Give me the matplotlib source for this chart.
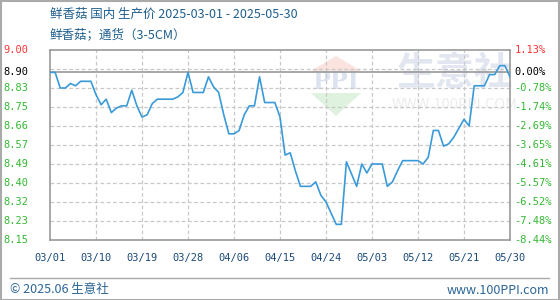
import matplotlib
matplotlib.use("Agg")
import matplotlib.pyplot as plt
import pandas as pd
import numpy as np
from matplotlib.patches import Polygon, Rectangle
from matplotlib.lines import Line2D

plt.rcParams['font.family'] = ['Noto Sans CJK SC', 'DejaVu Sans']

# ---- data ----
title_text = "鲜香菇 国内 生产价 2025-03-01 - 2025-05-30"
subtitle_text = "鲜香菇；通货（3-5CM）"
start_date = "2025-03-01"
end_date = "2025-05-30"
prices = [
    8.90, 8.90, 8.83, 8.83, 8.85, 8.84, 8.86, 8.86, 8.86, 8.80,
    8.755, 8.78, 8.72, 8.74, 8.75, 8.75, 8.82, 8.75, 8.70, 8.71,
    8.76, 8.78, 8.78, 8.78, 8.78, 8.79, 8.81, 8.90, 8.81, 8.81,
    8.81, 8.88, 8.835, 8.81, 8.71, 8.625, 8.625, 8.64, 8.71, 8.75,
    8.75, 8.88, 8.765, 8.765, 8.765, 8.70, 8.53, 8.54, 8.46, 8.39,
    8.39, 8.39, 8.41, 8.35, 8.32, 8.27, 8.22, 8.22, 8.50, 8.445,
    8.39, 8.49, 8.45, 8.49, 8.49, 8.49, 8.39, 8.41, 8.46, 8.505,
    8.505, 8.505, 8.505, 8.49, 8.52, 8.64, 8.64, 8.57, 8.58, 8.61,
    8.65, 8.69, 8.66, 8.84, 8.84, 8.84, 8.89, 8.89, 8.93, 8.93,
    8.88,
]
base_value = 8.90
y_min, y_max = 8.15, 9.00
left_labels = ["9.00", "8.90", "8.83", "8.75", "8.66", "8.57", "8.49", "8.40", "8.32", "8.23", "8.15"]
right_labels = ["1.13%", "0.00%", "-0.78%", "-1.74%", "-2.69%", "-3.65%", "-4.61%", "-5.57%", "-6.52%", "-7.48%", "-8.44%"]
x_tick_labels = ["03/01", "03/10", "03/19", "03/28", "04/06", "04/15", "04/24", "05/03", "05/12", "05/21", "05/30"]
tick_step_days = 9
footer_left = "© 2025.06 生意社"
footer_right = "www.100PPI.com"

dates = pd.date_range(start_date, end_date, freq="D")

# ---- figure ----
W, H = 560, 300
fig = plt.figure(figsize=(W / 100, H / 100), dpi=100)
ax = fig.add_axes([50 / W, 60 / H, 460 / W, 190 / H])

line_color = "#3a9ad9"
grid_color = "#c8c8c8"
border_color = "#999999"
green = "#33b833"
red = "#ff3333"
blue_txt = "#1f5f8f"

ax.plot(dates, prices, color=line_color, lw=1.2, zorder=3)
ax.set_xlim(dates[0], dates[-1])
ax.set_ylim(y_min, y_max)

# grid positions
n = len(left_labels)
grid_vals = np.linspace(y_max, y_min, n)
for i, gv in enumerate(grid_vals):
    if 0 < i < n - 1:
        ax.axhline(gv, color=grid_color, lw=0.9, ls=(0, (3, 2)), zorder=1)
ax.axhline(base_value, color=border_color, lw=1.2, zorder=2)

xticks = dates[::tick_step_days]
for xt in xticks[1:-1]:
    ax.axvline(xt, color=grid_color, lw=0.9, ls=(0, (3, 2)), zorder=1)
ax.set_xticks(xticks)
ax.set_xticklabels(x_tick_labels, fontsize=7.5, color="#1a4a7a", family="DejaVu Sans Mono")
ax.tick_params(axis="x", length=0, pad=9)
ax.set_yticks([])

for s in ax.spines.values():
    s.set_color(border_color)
    s.set_linewidth(1.2)

# y labels, left and right
for i, (gv, ll, rl) in enumerate(zip(grid_vals, left_labels, right_labels)):
    yv = base_value if i == 1 else gv
    col = red if i == 0 else ("black" if i == 1 else green)
    ax.text(-0.048, yv, ll, transform=ax.get_yaxis_transform(), ha="right", va="center",
            fontsize=7.5, color=col, family="DejaVu Sans Mono")
    ax.text(1.01, yv, rl, transform=ax.get_yaxis_transform(), ha="left", va="center",
            fontsize=7.5, color=col, family="DejaVu Sans Mono")

# titles
fig.text(50 / W, 1 - 14 / H, title_text, fontsize=9, color=blue_txt, va="center", ha="left")
fig.text(50 / W, 1 - 35 / H, subtitle_text, fontsize=9, color=blue_txt, va="center", ha="left")

# watermark
fig.text(455 / W, 1 - 73 / H, "生意社", fontsize=28, color="#e2e6f0", ha="center", va="center",
         fontweight="bold", zorder=0.5)
fig.text(455 / W, 1 - 105 / H, "WWW.100PPI.COM", fontsize=10.5, color="#ececec", ha="center", va="center",
         zorder=0.5)
# logo
cx = 336
fig.patches.append(Polygon([((cx - 25) / W, 1 - 71 / H), ((cx + 25) / W, 1 - 71 / H),
                            (cx / W, 1 - 56 / H)], closed=True, transform=fig.transFigure,
                           facecolor="#fbe3df", edgecolor="none", zorder=0.4))
fig.patches.append(Polygon([((cx - 25) / W, 1 - 93 / H), ((cx + 25) / W, 1 - 93 / H),
                            (cx / W, 1 - 116 / H)], closed=True, transform=fig.transFigure,
                           facecolor="#dff1df", edgecolor="none", zorder=0.4))
fig.text(cx / W, 1 - 82 / H, "PPI", fontsize=17, color="#dce2ef", ha="center", va="center",
         fontweight="bold", family="DejaVu Serif", zorder=0.5)
ax.set_zorder(1)
ax.patch.set_alpha(0)

# footer
fig.add_artist(Line2D([10 / W, 549 / W], [1 - 278 / H, 1 - 278 / H], color="#aaaaaa", lw=1,
                      transform=fig.transFigure))
fig.text(10 / W, 1 - 290 / H, footer_left, fontsize=9, color="#2a6496", ha="left", va="center")
fig.text(549 / W, 1 - 290 / H, footer_right, fontsize=9, color="#2a6496", ha="right", va="center")

# outer border
fig.patches.append(Rectangle((0.5 / W, 0.5 / H), 1 - 1.5 / W, 1 - 1.5 / H, transform=fig.transFigure,
                             fill=False, edgecolor="#aaaaaa", lw=1.5))

fig.savefig("out.png", dpi=100)
